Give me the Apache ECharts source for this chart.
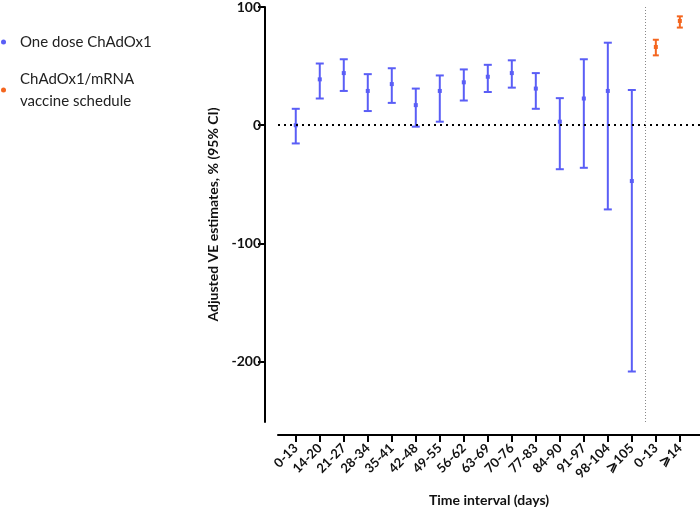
<!DOCTYPE html>
<html>
<head>
<meta charset="utf-8">
<script src="https://cdn.jsdelivr.net/npm/echarts@6/dist/echarts.min.js"></script>
<style>
html,body{margin:0;padding:0;background:#fff;}
#chart{width:700px;height:512px;}
</style>
</head>
<body>
<div id="chart"></div>
<script>
// Category labels along x axis
const categories = ['0-13','14-20','21-27','28-34','35-41','42-48','49-55','56-62','63-69','70-76','77-83','84-90','91-97','98-104','\u2A7E105','0-13','\u2A7E14'];
// One dose ChAdOx1 (indices 0-14)
const oneDoseIdx   = [0,1,2,3,4,5,6,7,8,9,10,11,12,13,14];
const oneDoseVE    = [0, 38.8, 44.1, 29, 34.8, 17, 29, 36.3, 41, 44.1, 31, 3, 22.6, 29, -47.2];
const oneDoseLow   = [-15.4, 22.6, 29, 12, 18.9, -1.2, 3, 20.9, 28.1, 31.8, 13.9, -37.2, -36, -71.2, -208.3];
const oneDoseHigh  = [13.9, 52.2, 55.8, 43.2, 48.2, 31, 42.1, 47.2, 51.1, 54.9, 44.1, 22.9, 55.8, 69.8, 29.8];
// ChAdOx1/mRNA vaccine schedule (indices 15-16)
const mixIdx  = [15, 16];
const mixVE   = [66.2, 88.2];
const mixLow  = [59.1, 82.6];
const mixHigh = [72.3, 92.1];
// Axis ticks
const yTicks = [100, 0, -100, -200];
const groupDivider = 14.56;

const font = 'Lato, "Open Sans", "Liberation Sans", sans-serif';

function rows(idx, ve, lo, hi){ return idx.map((x,i)=>[x, ve[i], lo[i], hi[i]]); }

function errRender(capW, lw, dot){
  return function(params, api){
    const x = api.value(0), c = api.value(1), lo = api.value(2), hi = api.value(3);
    const pLo = api.coord([x, lo]), pHi = api.coord([x, hi]), pC = api.coord([x, c]);
    const color = api.visual('color');
    const st = {stroke: color, lineWidth: lw};
    return {type:'group', children:[
      {type:'line', shape:{x1:pLo[0], y1:pLo[1], x2:pHi[0], y2:pHi[1]}, style:st},
      {type:'line', shape:{x1:pLo[0]-capW/2, y1:pLo[1], x2:pLo[0]+capW/2, y2:pLo[1]}, style:st},
      {type:'line', shape:{x1:pHi[0]-capW/2, y1:pHi[1], x2:pHi[0]+capW/2, y2:pHi[1]}, style:st},
      {type:'rect', shape:{x:pC[0]-dot/2, y:pC[1]-dot/2, width:dot, height:dot}, style:{fill:color}}
    ]};
  };
}

const chart = echarts.init(document.getElementById('chart'), null, {renderer:'canvas'});
const tickIdx = categories.map((_, i) => i);
chart.setOption({
  animation:false,
  textStyle:{fontFamily:font},
  grid:{left:278, right:0, top:5, bottom:88, containLabel:false},
  legend:{
    orient:'vertical', left:-4, top:26, itemGap:15,
    icon:'circle', itemWidth:5, itemHeight:5,
    textStyle:{fontFamily:font, fontSize:15, color:'#222', lineHeight:22, padding:[0,0,0,9]},
    data:['One dose ChAdOx1', 'ChAdOx1/mRNA\nvaccine schedule']
  },
  xAxis:{
    type:'value', min:-0.74, max:16.84,
    offset:13,
    splitLine:{show:false},
    axisLine:{show:true, onZero:false, lineStyle:{color:'#000', width:2}},
    axisTick:{show:true, customValues:tickIdx, length:7, lineStyle:{color:'#000', width:2}},
    axisLabel:{customValues:tickIdx, rotate:45, fontSize:13, fontWeight:'bold', color:'#111', margin:11,
      formatter:(v)=>categories[Math.round(v)] || ''},
    name:'Time interval (days)', nameLocation:'middle', nameGap:58,
    nameTextStyle:{fontSize:14, fontWeight:'bold', color:'#111'}
  },
  yAxis:{
    type:'value', min:-251, max:100,
    offset:13,
    splitLine:{show:false},
    axisLine:{show:true, onZero:false, lineStyle:{color:'#000', width:2}},
    axisTick:{show:true, customValues:yTicks, length:7, lineStyle:{color:'#000', width:2}},
    axisLabel:{customValues:yTicks, fontSize:14, fontWeight:'bold', color:'#111', margin:4},
    name:'Adjusted VE estimates, % (95% CI)', nameLocation:'middle', nameGap:37, nameRotate:90,
    nameTextStyle:{fontSize:14, fontWeight:'bold', color:'#111'}
  },
  series:[
    {
      name:'One dose ChAdOx1', type:'custom', color:'#5a5ef6',
      renderItem:errRender(8, 2, 4),
      encode:{x:0, y:[1,2,3]},
      data:rows(oneDoseIdx, oneDoseVE, oneDoseLow, oneDoseHigh),
      markLine:{
        silent:true, symbol:'none', label:{show:false},
        lineStyle:{color:'#000', type:[2,4], width:2},
        data:[{yAxis:0}]
      }
    },
    {
      name:'ChAdOx1/mRNA\nvaccine schedule', type:'custom', color:'#f4661f',
      renderItem:errRender(6, 2, 4),
      encode:{x:0, y:[1,2,3]},
      data:rows(mixIdx, mixVE, mixLow, mixHigh),
      markLine:{
        silent:true, symbol:'none', label:{show:false},
        lineStyle:{color:'#888', type:[1,2], width:1},
        data:[{xAxis:groupDivider}]
      }
    }
  ]
});
</script>
</body>
</html>
